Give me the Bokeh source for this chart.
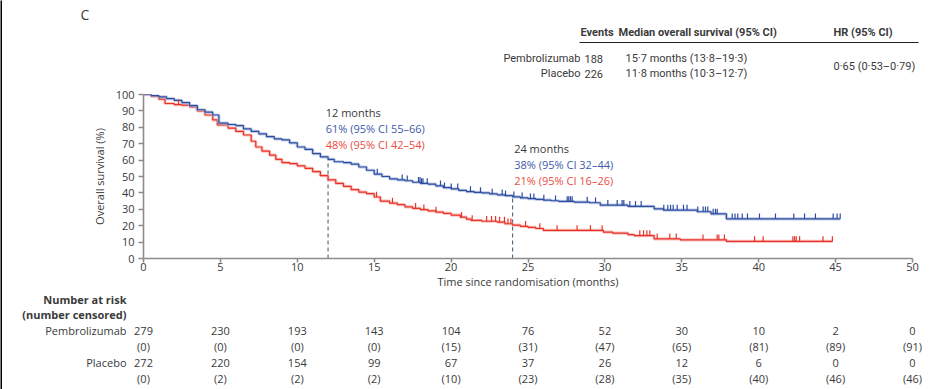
import numpy as np
from bokeh.plotting import figure
from bokeh.models import Label, LabelSet, ColumnDataSource, FixedTicker, BoxAnnotation
from bokeh.layouts import column, row
from bokeh.core.properties import value
from bokeh.embed import file_html
from bokeh.resources import INLINE

# ---------------- data ----------------
pem_t = [0, 0.5, 1.0, 1.5, 2.0, 2.5, 3.0, 3.5, 4.0, 4.5, 4.9, 5.5, 6.0, 6.5, 7.0, 7.5, 8.0, 8.5, 9.0,
         9.5, 10.0, 10.5, 11.0, 11.5, 12.0, 12.4, 13.0, 13.5, 14.0, 14.5, 15.0, 15.5, 16.0, 16.5, 17.0,
         17.5, 18.0, 18.5, 19.0, 19.5, 20.0, 20.5, 21.0, 21.5, 22.0, 22.5, 23.0, 23.5, 24.0, 24.5, 25.0,
         25.5, 26.0, 26.5, 27.0, 28.0, 29.0, 29.7, 31.5, 33.2, 33.8, 36.0, 36.9, 37.9, 45.3]
pem_s = [100, 99.3, 98.6, 97.5, 96.4, 95.0, 93.2, 90.7, 89.2, 87.5, 82.5, 81.7, 81.0, 79.0, 77.5, 76.0,
         74.3, 73.0, 72.3, 70.5, 68.0, 66.5, 64.0, 62.0, 60.5, 59.0, 58.5, 57.5, 55.8, 53.8, 51.5, 50.0,
         48.6, 48.0, 47.4, 46.5, 45.8, 45.4, 44.3, 43.2, 42.5, 41.5, 40.8, 40.3, 40.0, 39.4, 38.8, 38.3,
         37.6, 37.0, 36.5, 36.0, 35.6, 35.2, 34.8, 34.4, 34.0, 32.5, 31.8, 30.3, 29.5, 28.5, 27.2, 24.2,
         24.2]
pbo_t = [0, 0.5, 1.0, 1.4, 2.0, 2.5, 3.0, 3.5, 4.0, 4.5, 4.8, 5.5, 6.0, 6.5, 7.0, 7.3, 7.7, 8.2, 8.6,
         9.0, 9.5, 10.0, 10.5, 11.0, 11.5, 12.0, 12.5, 13.0, 13.5, 14.0, 14.5, 15.0, 15.4, 16.0, 16.5,
         17.0, 17.5, 18.0, 18.5, 19.0, 19.5, 20.0, 20.6, 21.0, 21.3, 22.0, 23.0, 23.5, 24.0, 24.5, 25.0,
         25.5, 26.0, 29.9, 30.5, 31.5, 31.9, 33.2, 34.9, 37.9, 44.8]
pbo_s = [100, 98.8, 97.2, 94.5, 93.8, 93.5, 92.5, 90.0, 87.5, 84.5, 81.5, 79.5, 77.5, 75.3, 71.5, 68.0,
         65.5, 63.0, 60.5, 58.5, 57.8, 56.5, 55.0, 53.0, 50.5, 48.0, 45.8, 44.0, 42.0, 40.5, 39.5, 37.5,
         35.0, 33.8, 32.8, 31.5, 30.6, 29.8, 29.0, 28.3, 27.5, 26.5, 25.2, 24.0, 23.2, 22.7, 22.2, 21.2,
         20.3, 19.6, 19.0, 18.3, 17.1, 16.1, 15.5, 14.5, 14.0, 12.0, 11.4, 10.4, 10.4]
pem_cens = [15.2, 16.82, 17.15, 17.88, 17.98, 18.08, 18.17, 18.45, 19.31, 19.57, 20.01, 20.43, 21.26,
            21.91, 22.67, 23.32, 23.54, 24.08, 24.62, 25.16, 25.38, 26.03, 26.79, 27.55, 27.65, 27.76,
            27.87, 28.85, 29.39, 30.19, 30.8, 31.12, 31.23, 31.62, 31.99, 32.36, 33.83, 34.09, 34.27,
            34.44, 34.7, 35.11, 35.34, 36.04, 36.39, 36.54, 36.69, 37.04, 37.19, 37.3, 38.28, 38.46,
            38.64, 38.93, 39.27, 40.05, 41.09, 42.28, 42.98, 43.69, 44.84, 45.1, 45.3]
pbo_cens = [2.28, 15.15, 16.19, 17.69, 18.23, 19.02, 20.68, 21.37, 22.31, 22.63, 22.89, 23.15, 23.47,
            23.70, 23.89, 24.84, 25.77, 26.89, 28.19, 29.06, 29.82, 32.27, 32.51, 32.73, 32.92, 33.4,
            34.22, 34.64, 36.38, 37.3, 37.41, 37.77, 39.73, 40.29, 42.22, 42.33, 42.44, 42.66, 44.18,
            44.79]

risk_months = [0, 5, 10, 15, 20, 25, 30, 35, 40, 45, 50]
pem_risk = [279, 230, 193, 143, 104, 76, 52, 30, 10, 2, 0]
pem_censored = [0, 0, 0, 0, 15, 31, 47, 65, 81, 89, 91]
pbo_risk = [272, 220, 154, 99, 67, 37, 26, 12, 6, 0, 0]
pbo_censored = [0, 2, 2, 2, 10, 23, 28, 35, 40, 46, 46]

landmark_months = [12, 24]
landmark_pem = [61, 38]
landmark_pem_ci = ["55–66", "32–44"]
landmark_pbo = [48, 21]
landmark_pbo_ci = ["42–54", "16–26"]

arms = ["Pembrolizumab", "Placebo"]
events = ["188", "226"]
medians = ["15·7 months (13·8–19·3)", "11·8 months (10·3–12·7)"]
hr_text = "0·65 (0·53–0·79)"

# ---------------- layout / style ----------------
BAR = 2                      # black rule along the left edge
M = BAR                      # page x where the chart figures start
TOTAL_W, TOTAL_H = 930, 389
FW = TOTAL_W - BAR
TOP_END, MAIN_END = 86, 292  # page y where the top / main parts end
FRAME_L, FRAME_R = 143, 912  # page x of month 0 and month 50
FRAME_T, FRAME_B = 94, 258   # page y of 100 % and 0 %
TOP_H = TOP_END
MAIN_H = MAIN_END - TOP_END
BOT_H = TOTAL_H - TOP_H - MAIN_H

FONT = "Open Sans"
NARROW = "'Liberation Sans Narrow', Roboto, sans-serif"
BLUE, BLUE_L = "#2b4c9f", "#a9b7dc"
RED, RED_L = "#e8332b", "#f6a9a3"
TXT = "#3a3a3a"


def blank(w, h, xr=(0, 1), fill="white"):
    f = figure(width=w, height=h, output_backend="svg", toolbar_location=None,
               x_range=xr, y_range=(0, 1), frame_align=False,
               min_border_left=0, min_border_right=0, min_border_top=0, min_border_bottom=0,
               background_fill_color=fill, border_fill_color=fill)
    f.grid.visible = False
    f.outline_line_color = None
    f.xaxis.visible = False
    f.yaxis.visible = False
    return f


def tx(px):
    return px - M


# ---------------- main KM plot ----------------
p = figure(width=FW, height=MAIN_H, output_backend="svg", toolbar_location=None,
           x_range=(0, 50), y_range=(0, 100), frame_align=False,
           min_border_left=FRAME_L - M, min_border_right=TOTAL_W - FRAME_R,
           min_border_top=FRAME_T - TOP_END, min_border_bottom=MAIN_END - FRAME_B)
p.grid.visible = False
p.outline_line_color = None

for ax in (p.xaxis[0], p.yaxis[0]):
    ax.axis_line_color = "#8c8c8c"
    ax.axis_line_width = 1.6
    ax.major_tick_line_color = "#8c8c8c"
    ax.major_tick_line_width = 1.6
    ax.major_tick_in = 0
    ax.major_tick_out = 5
    ax.minor_tick_line_color = None
    ax.major_label_text_font = FONT
    ax.major_label_text_font_size = "11px"
    ax.major_label_text_color = TXT
    ax.axis_label_text_font = FONT
    ax.axis_label_text_font_size = "11px"
    ax.axis_label_text_font_style = "normal"
    ax.axis_label_text_color = TXT

p.xaxis.ticker = FixedTicker(ticks=risk_months)
p.yaxis.ticker = FixedTicker(ticks=list(range(0, 101, 10)))
p.xaxis.axis_label = "Time since randomisation (months)"
p.yaxis.axis_label = "Overall survival (%)"
p.xaxis.major_tick_out = 4
p.xaxis.major_label_standoff = 0
p.xaxis.axis_label_standoff = 0
p.yaxis.major_label_standoff = 4
p.yaxis.axis_label_standoff = 6


def surv_at(t, s, times):
    t = np.asarray(t)
    s = np.asarray(s)
    idx = np.searchsorted(t, np.asarray(times), side="right") - 1
    return s[np.clip(idx, 0, len(s) - 1)]


lm_y = surv_at(pem_t, pem_s, landmark_months)
p.segment(x0=landmark_months, y0=[0, 0], x1=landmark_months, y1=lm_y,
          line_color="#3d566e", line_width=1, line_dash="4 3")

for t, s, c, cl in ((pbo_t, pbo_s, RED, RED_L), (pem_t, pem_s, BLUE, BLUE_L)):
    p.step(t, s, mode="after", line_color=cl, line_width=3.2, line_alpha=0.7)
    p.step(t, s, mode="after", line_color=c, line_width=1.2)

for t, s, cens, c in ((pbo_t, pbo_s, pbo_cens, RED), (pem_t, pem_s, pem_cens, BLUE)):
    cy = surv_at(t, s, cens)
    p.segment(x0=cens, y0=cy, x1=cens, y1=cy + 3.2, line_color=c, line_width=1.2)

for i, m in enumerate(landmark_months):
    x = m - 0.15 if i == 0 else m + 0.1
    base = 89 if i == 0 else 67
    p.add_layout(Label(x=x, y=base, text=f"{m} months", text_font=FONT, text_font_size="11px",
                       text_color=TXT, text_baseline="middle"))
    p.add_layout(Label(x=x, y=base - 9.7, text=f"{landmark_pem[i]}% (95% CI {landmark_pem_ci[i]})",
                       text_font=FONT, text_font_size="11px", text_color="#3e5aab",
                       text_baseline="middle"))
    p.add_layout(Label(x=x, y=base - 19.4, text=f"{landmark_pbo[i]}% (95% CI {landmark_pbo_ci[i]})",
                       text_font=FONT, text_font_size="11px", text_color="#ea4b42",
                       text_baseline="middle"))

# ---------------- top: panel letter + summary table ----------------
top = blank(FW, TOP_H)


def ty_top(py):
    return TOP_END - py


def top_label(txt, px, py, bold=False, align="left", size="11px", font=NARROW):
    top.add_layout(Label(x=tx(px), y=ty_top(py), x_units="screen", y_units="screen", text=txt,
                         text_font=font, text_font_size=size, text_color=TXT,
                         text_font_style="bold" if bold else "normal",
                         text_align=align, text_baseline="middle"))


top_label("C", 80, 14, size="14px", font=FONT)
for txt, px in (("Events", 580), ("Median overall survival (95% CI)", 618), ("HR (95% CI)", 833)):
    top_label(txt, px, 32, bold=True)
for i, py in enumerate((58, 73)):
    top_label(arms[i], 580, py, align="right")
    top_label(events[i], 584, py)
    top_label(medians[i], 625, py)
top_label(hr_text, 833, 66)
top.add_layout(BoxAnnotation(left=tx(579), right=tx(918), top=ty_top(41.5), bottom=ty_top(42.6),
                             left_units="screen", right_units="screen", top_units="screen",
                             bottom_units="screen", fill_color="#222222", fill_alpha=1,
                             line_color=None))

# ---------------- bottom: number at risk ----------------
ppm = (FRAME_R - FRAME_L) / 50.0
bot = blank(FW, BOT_H, xr=((M - FRAME_L) / ppm, (TOTAL_W - FRAME_L) / ppm))


def ty_bot(py):
    return TOTAL_H - py


risk_src = ColumnDataSource(dict(
    x=risk_months * 4,
    y=[ty_bot(330)] * 11 + [ty_bot(346)] * 11 + [ty_bot(362)] * 11 + [ty_bot(378)] * 11,
    txt=[str(v) for v in pem_risk] + [f"({v})" for v in pem_censored]
        + [str(v) for v in pbo_risk] + [f"({v})" for v in pbo_censored],
))
bot.add_layout(LabelSet(x="x", y="y", text="txt", source=risk_src, y_units="screen",
                        text_font=value(FONT), text_font_size="11px", text_color=TXT,
                        text_align="center", text_baseline="middle"))
for txt, py, bold in (("Number at risk", 299, True), ("(number censored)", 314, True),
                      (arms[0], 330, False), (arms[1], 362, False)):
    bot.add_layout(Label(x=tx(126), y=ty_bot(py), x_units="screen", y_units="screen", text=txt,
                         text_font=FONT, text_font_size="11px", text_color=TXT,
                         text_font_style="bold" if bold else "normal",
                         text_align="right", text_baseline="middle"))

bar = blank(BAR, TOTAL_H, fill="black")
layout = row(bar, column(top, p, bot, spacing=0), spacing=0)

open("out.html", "w").write(file_html(layout, INLINE))
